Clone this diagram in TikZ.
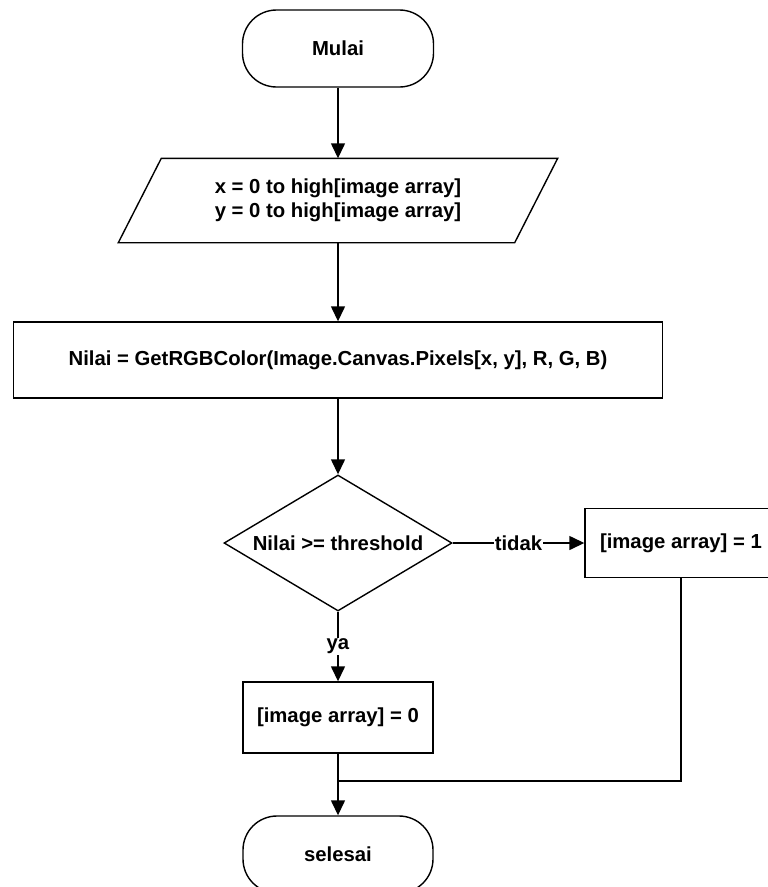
\documentclass[tikz,border=0pt]{standalone}
\usepackage{fontspec}
\setmainfont{Liberation Sans}
\usetikzlibrary{arrows.meta,shapes.geometric,calc}
\begin{document}
\begin{tikzpicture}[x=1pt,y=-1pt,
  line width=1.4pt,
  txt/.style={font=\fontsize{20.3}{24}\selectfont\bfseries, text=black},
  terminal/.style={txt, draw, rectangle, rounded corners=34pt,
    minimum width=191pt, minimum height=77pt, inner sep=0pt},
  procbox/.style={txt, draw, rectangle, inner sep=0pt},
  iobox/.style={txt, rectangle, inner sep=0pt, align=center,
    minimum width=395pt, minimum height=83pt},
  decision/.style={txt, draw, diamond, aspect=1.68, inner sep=0pt,
    minimum width=228pt, minimum height=136pt},
  flow/.style={-{Triangle[length=15pt,width=14pt]}},
  lbl/.style={txt, fill=white, inner sep=0.6pt}
]
% page area
\fill[white] (0,0) rectangle (768,887);
\clip (0,0) rectangle (768,887);

% shapes
\node[terminal] (start) at (338,48.5) {Mulai};
\node[iobox] (input) at (338,200.5)
  {x = 0 to high[image array]\\y = 0 to high[image array]};
\draw ($(input.north west)+(21.5,0)$) -- ($(input.north east)+(21.5,0)$)
  -- ($(input.south east)+(-21.5,0)$) -- ($(input.south west)+(-21.5,0)$) -- cycle;
\node[procbox, minimum width=649pt, minimum height=76pt] (pixel) at (338,360)
  {Nilai = GetRGBColor(Image.Canvas.Pixels[x, y], R, G, B)};
\node[decision] (check) at (338,543) {Nilai >= threshold};
\node[procbox, minimum width=192pt, minimum height=69pt] (one) at (681,543)
  {[image array] = 1};
\node[procbox, minimum width=190pt, minimum height=71pt] (zero) at (338,717.5)
  {[image array] = 0};
\node[terminal, minimum width=190pt] (stop) at (338,854.5) {selesai};
\coordinate (merge) at (338,781);
\coordinate (corner) at (one.south |- merge);

% connectors
\draw[flow] (start) -- (input);
\draw[flow] (input) -- (pixel);
\draw[flow] (pixel) -- (check);
\draw[flow] (check) -- node[lbl] {tidak} (one);
\draw[flow] (check) -- node[lbl] {ya} (zero);
\draw[flow] (zero) -- (stop);
\draw (one) -- (corner) -- (merge);
\end{tikzpicture}
\end{document}
